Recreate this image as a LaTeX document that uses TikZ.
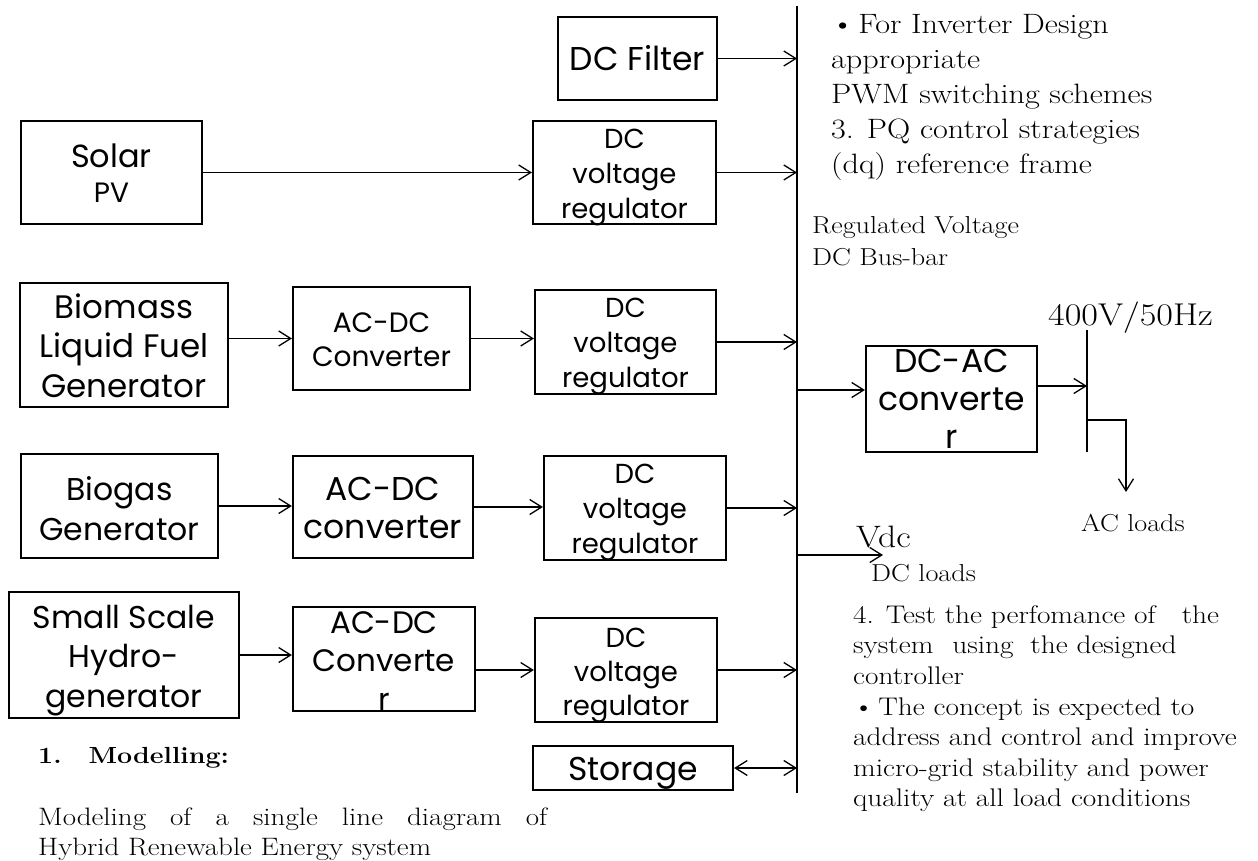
\documentclass[tikz,border=0pt]{standalone}
\usepackage{fontspec}
\setmainfont{Latin Modern Roman}[FakeStretch=1.15]
\newfontfamily\gothic{Poppins}
\usetikzlibrary{arrows.meta}
\newcommand\gf[2]{\gothic\fontsize{#1}{#2}\selectfont}
\newcommand\rf[2]{\fontsize{#1}{#2}\selectfont}
\newcommand\bul{\textbullet\hspace{4pt}}
\begin{document}
\begin{tikzpicture}[x=1pt,y=-1pt,
 box/.style={draw, line width=2.2pt, inner sep=0pt},
 arr/.style={-{Straight Barb[length=12pt,width=15pt]}, line width=1.3pt},
 darr/.style={{Straight Barb[length=12pt,width=15pt]}-{Straight Barb[length=12pt,width=15pt]}, line width=1.3pt},
 bar/.style={line width=1.6pt},
 ml/.style={inner sep=0pt, align=center, anchor=north},
 sl/.style={inner sep=0pt, anchor=base},
 tl/.style={inner sep=0pt, align=left, anchor=north west},
 tw/.style={inner sep=0pt, anchor=base west},
]
\path[fill=white] (0,0) rectangle (1258,861);
\useasboundingbox (0,0) rectangle (1258,861);

% boxes
\node[box, minimum width=159pt, minimum height=83pt]  (filter)  at (637.5,58.5) {};
\node[box, minimum width=181pt, minimum height=103pt] (solar)   at (111.5,172.5) {};
\node[box, minimum width=183pt, minimum height=103pt] (dvr1)    at (624.5,172.5) {};
\node[box, minimum width=208pt, minimum height=124pt] (biomass) at (124,345) {};
\node[box, minimum width=177pt, minimum height=103pt] (acdc1)   at (381.5,338.5) {};
\node[box, minimum width=181pt, minimum height=104pt] (dvr2)    at (625.5,342) {};
\node[box, minimum width=197pt, minimum height=104pt] (biogas)  at (119.5,506) {};
\node[box, minimum width=180pt, minimum height=102pt] (acdc2)   at (383,507) {};
\node[box, minimum width=182pt, minimum height=104pt] (dvr3)    at (635,508) {};
\node[box, minimum width=230pt, minimum height=126pt] (small)   at (124,655) {};
\node[box, minimum width=182pt, minimum height=104pt] (acdc3)   at (384,659) {};
\node[box, minimum width=182pt, minimum height=104pt] (dvr4)    at (626,670) {};
\node[box, minimum width=200pt, minimum height=44pt]  (storage) at (633,768) {};
\node[box, minimum width=171pt, minimum height=106pt] (dcac)    at (951.5,399) {};

% box texts
\node[sl, font=\gf{33}{40}] (filtert) at (637.5,71) {DC Filter};
\node[sl, font=\gf{32}{40}] (solart1) at (111.5,168) {Solar};
\node[sl, font=\gf{28}{34}] (solart2) at (111.5,203) {PV};
\node[ml, font=\gf{27.5}{35}] (dvr1t) at (624.5,123.5) {\strut DC\\\strut voltage\\\strut regulator};
\node[ml, font=\gf{27.5}{35}] (dvr2t) at (625.5,292.5) {\strut DC\\\strut voltage\\\strut regulator};
\node[ml, font=\gf{27.5}{35}] (dvr3t) at (635,458.5) {\strut DC\\\strut voltage\\\strut regulator};
\node[ml, font=\gf{27.5}{34}] (dvr4t) at (626,623.2) {\strut DC\\\strut voltage\\\strut regulator};
\node[ml, font=\gf{32.5}{39.5}] (biomasst) at (124,290.35) {\strut Biomass\\\strut Liquid Fuel\\\strut Generator};
\node[ml, font=\gf{31.5}{40}] (biogast) at (119.5,472) {\strut Biogas\\\strut Generator};
\node[ml, font=\gf{31.5}{39.5}] (smallt) at (124,600.35) {\strut Small Scale\\\strut Hydro-\\\strut generator};
\node[ml, font=\gf{28}{34}] (acdc1t) at (381.5,308.2) {\strut AC-DC\\\strut Converter};
\node[ml, font=\gf{33}{38}] (acdc2t) at (383,473.4) {\strut AC-DC\\\strut converter};
\node[ml, font=\gf{31}{38.5}] (acdc3t) at (384,606) {\strut AC-DC\\\strut Converte\\\strut r};
\node[ml, font=\gf{33}{38}] (dcact) at (951.5,345.4) {\strut DC-AC\\\strut converte\\\strut r};
\node[sl, font=\gf{33}{40}] (storaget) at (633,780) {Storage};

% DC bus
\coordinate (busT) at (797,6);
\coordinate (busB) at (797,793);
\draw[bar] (busT) -- (busB);

% connectors
\draw[arr] (filter.east) -- (filter.east -| busT);
\draw[arr] (solar.east) -- (dvr1.west);
\draw[arr] (dvr1.east) -- (dvr1.east -| busT);
\draw[arr] (acdc1.west -| biomass.east) -- (acdc1.west);
\draw[arr] (acdc1.east) -- (acdc1.east -| dvr2.west);
\draw[arr] (dvr2.east) -- (dvr2.east -| busT);
\draw[arr] (biogas.east) -- (biogas.east -| acdc2.west);
\draw[arr] (acdc2.east) -- (acdc2.east -| dvr3.west);
\draw[arr] (dvr3.east) -- (dvr3.east -| busT);
\draw[arr] (small.east) -- (small.east -| acdc3.west);
\draw[arr] (dvr4.west -| acdc3.east) -- (dvr4.west);
\draw[arr] (dvr4.east) -- (dvr4.east -| busT);
\draw[darr] (storage.east) -- (storage.east -| busT);

\coordinate (b2) at (797,390);
\draw[arr] (b2) -- (b2 -| dcac.west);
\coordinate (b3) at (797,555);
\coordinate (dcl) at (883,555);
\draw[arr] (b3) -- (dcl);

% AC bar
\coordinate (acT) at (1087,330);
\coordinate (acB) at (1087,452);
\draw[bar] (acT) -- (acB);
\coordinate (ac1) at (1087,386);
\draw[arr] (dcac.east |- ac1) -- (ac1);
\coordinate (ac2) at (1087,420);
\coordinate (acl) at (1126,492);
\draw[arr] (ac2) -| (acl);

% serif texts
\node[tl, font=\rf{28}{35}] (notes1) at (831,8.5)
 {\strut\bul For Inverter Design\\\strut appropriate\\\strut PWM switching schemes\\\strut 3. PQ control strategies\\\strut (dq) reference frame};
\node[tl, font=\rf{24.5}{32}] (busl) at (812,210.6) {\strut Regulated Voltage\\\strut DC Bus-bar};
\node[tw, font=\rf{31.5}{36}] (volt) at (1048,325) {400V/50Hz};
\node[tw, font=\rf{31}{38}] (vdc) at (856,547) {Vdc};
\node[tw, font=\rf{24.5}{28}] (dcloads) at (871,581) {DC loads};
\node[tw, font=\rf{24.5}{28}] (acloads) at (1081,531) {AC loads};
\node[tl, font=\rf{25.5}{30.6}] (notes2) at (853,601.6)
 {\strut 4. Test the perfomance of\hspace{26pt}the\\\strut system\hspace{10pt} using\hspace{8pt} the designed\\\strut controller\\\strut\bul The concept is expected to\\\strut address and control and improve\\\strut micro-grid stability and power\\\strut quality at all load conditions};
\node[tw, font=\rf{23.3}{30}\bfseries] (model) at (38,763) {1.\hspace{27pt}Modelling:};
\node[tl, font=\rf{25.2}{30}] (modeldesc) at (38,804)
 {\makebox[509pt][s]{\strut Modeling of a single line diagram of}\\\strut Hybrid Renewable Energy system};
\end{tikzpicture}
\end{document}
